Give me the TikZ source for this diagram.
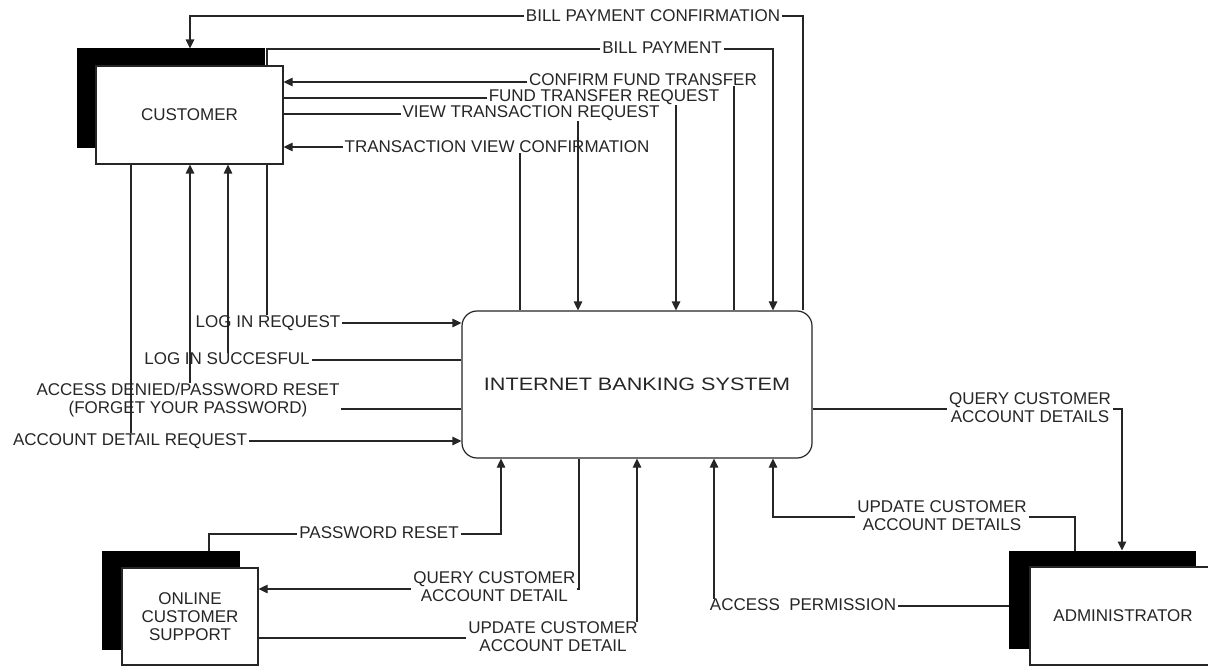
\documentclass[tikz,border=0pt]{standalone}
\usepackage{fontspec}
\usepackage{graphicx}
\setmainfont{Liberation Sans}
\usetikzlibrary{arrows.meta}
\newcommand{\lblfont}{\fontsize{17}{18}\selectfont}
\newcommand{\bigfont}{\fontsize{18}{20}\selectfont}
\tikzset{
  flow/.style={draw=black!85, line width=1.2pt},
  arr/.style={flow, -{Triangle[length=9pt,width=8.5pt]}},
  lbl/.style={fill=white, inner xsep=2pt, inner ysep=0pt, text=black!85, font=\lblfont, align=center},
  entw/.style={draw=black!85, fill=white, line width=1.2pt, inner sep=0pt, text=black!85, font=\lblfont, align=center},
  ents/.style={draw=black, fill=black, line width=1pt, inner sep=0pt},
  proc/.style={draw=black!85, fill=white, line width=1.2pt, rounded corners=15pt, inner sep=0pt, text=black!85, font=\bigfont}
}
\begin{document}
\begin{tikzpicture}[x=1pt,y=-1pt]
\useasboundingbox (0,0) rectangle (1208,666);
\clip (0,0) rectangle (1208,666);
\fill[white] (0,0) rectangle (1208,666);

% entities
\node[ents, minimum width=187pt, minimum height=99pt] (cshadow) at (170.5,98.5) {};
\node[entw, minimum width=187pt, minimum height=98pt] (cust) at (189.5,115) {CUSTOMER};
\node[ents, minimum width=137pt, minimum height=98pt] (oshadow) at (170.5,600) {};
\node[entw, minimum width=136pt, minimum height=97pt] (ocs) at (190,616.5) {ONLINE\\CUSTOMER\\SUPPORT};
\node[ents, minimum width=186pt, minimum height=97pt] (ashadow) at (1102,599.5) {};
\node[entw, minimum width=186pt, minimum height=98pt] (admin) at (1123,616) {ADMINISTRATOR};
\node[proc, minimum width=350pt, minimum height=147pt] (ibs) at (637,384.5) {\scalebox{1.2}[1]{INTERNET BANKING SYSTEM}};

% top flows
\draw[arr] (ibs.north -| 803,0) -- (803,16) -- (190,16) -- (cshadow.north -| 190,0);
\node[lbl] (l1) at (653,16) {BILL PAYMENT CONFIRMATION};
\draw[arr] (cust.north -| 267,0) -- (267,49) -- (773,49) -- (ibs.north -| 773,0);
\node[lbl] (l2) at (662,48) {BILL PAYMENT};
\draw[arr] (ibs.north -| 734,0) -- (734,82) -- (cust.east |- 0,82);
\node[lbl] (l3) at (643,80) {CONFIRM FUND TRANSFER};
\draw[arr] (cust.east |- 0,98) -- (676,98) -- (ibs.north -| 676,0);
\node[lbl] (l4) at (604,97.5) {FUND TRANSFER REQUEST};
\draw[arr] (ibs.north -| 520,0) -- (520,147) -- (cust.east |- 0,147);
\node[lbl] (l6) at (497,147) {TRANSACTION VIEW CONFIRMATION};
\draw[arr] (cust.east |- 0,114) -- (578,114) -- (ibs.north -| 578,0);
\node[lbl] (l5) at (531,113.5) {VIEW TRANSACTION REQUEST};

% customer bottom flows
\draw[arr] (cust.south -| 267,0) -- (267,323) -- (ibs.west |- 0,323);
\node[lbl] (l7) at (268,323) {LOG IN REQUEST};
\draw[arr] (ibs.west |- 0,360) -- (228,360) -- (cust.south -| 228,0);
\node[lbl] (l8) at (227,359) {LOG IN SUCCESFUL};
\draw[arr] (ibs.west |- 0,409) -- (190,409) -- (cust.south -| 190,0);
\node[lbl] (l9) at (188,400) {ACCESS DENIED/PASSWORD RESET\\(FORGET YOUR PASSWORD)};
\draw[arr] (cust.south -| 131,0) -- (131,441) -- (ibs.west |- 0,441);
\node[lbl] (l10) at (130,441) {ACCOUNT DETAIL REQUEST};

% administrator flows
\draw[arr] (ibs.east |- 0,409) -- (1122,409) -- (ashadow.north -| 1122,0);
\node[lbl] (l11) at (1030,407.5) {QUERY CUSTOMER\\ACCOUNT DETAILS};
\draw[arr] (ashadow.north -| 1075,0) -- (1075,517) -- (773,517) -- (ibs.south -| 773,0);
\node[lbl] (l12) at (942,516) {UPDATE CUSTOMER\\ACCOUNT DETAILS};
\draw[arr] (ashadow.west |- 0,606) -- (714,606) -- (ibs.south -| 714,0);
\node[lbl] (l13) at (803,605) {ACCESS\ \ PERMISSION};

% online customer support flows
\draw[arr] (oshadow.north -| 209,0) -- (209,534) -- (501,534) -- (ibs.south -| 501,0);
\node[lbl] (l14) at (379,533) {PASSWORD RESET};
\draw[arr] (ibs.south -| 579,0) -- (579,589) -- (ocs.east |- 0,589);
\node[lbl, anchor=east] (l15) at (577.5,587) {QUERY CUSTOMER\\ACCOUNT DETAIL};
\draw[arr] (ocs.east |- 0,638) -- (637,638) -- (ibs.south -| 637,0);
\node[lbl] (l16) at (553,637) {UPDATE CUSTOMER\\ACCOUNT DETAIL};
\end{tikzpicture}
\end{document}
